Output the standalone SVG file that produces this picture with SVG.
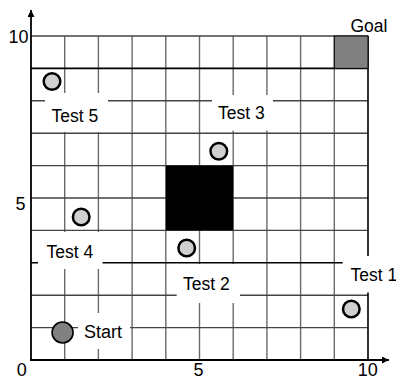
<svg xmlns="http://www.w3.org/2000/svg" width="396" height="378" viewBox="0 0 396 378">
<defs>
<style>
.v{stroke:#6a6a6a;stroke-width:1.4;fill:none}
.h{stroke:#444;stroke-width:1.4;fill:none}
.hb{stroke:#000;stroke-width:1.6;fill:none}
.box{fill:#fff}
.lbl{font-family:"Liberation Sans",Arial,sans-serif;font-size:17.5px;fill:#000}
.ax{font-family:"Liberation Sans",Arial,sans-serif;font-size:18px;fill:#000}
.test{fill:#d0d0d0;stroke:#000;stroke-width:2.5}
.axis{stroke:#000;stroke-width:1.8;fill:none}
</style>
<marker id="arr" viewBox="0 0 10 10" refX="10" refY="5" markerWidth="7" markerHeight="7" markerUnits="userSpaceOnUse" orient="auto">
<path d="M0,0 L10,5 L0,10 z" fill="#000"/>
</marker>
</defs>
<rect width="396" height="378" fill="#fff"/>
<g id="grid">
<path class="v" d="M64.7,36V360M98.4,36V360M132.1,36V360M165.8,36V360M199.5,36V360M233.2,36V360M266.9,36V360M300.6,36V360M334.3,36V360"/>
<path class="h" d="M31,36H368M31,100.8H368M31,133.2H368M31,165.6H368M31,198H368M31,230.4H368M31,295.2H368M31,327.6H368"/>
<path class="hb" d="M31,68.4H368M31,262.8H368M368,36V360"/>
</g>
<g id="obstacle"><rect x="165.8" y="165.6" width="67.4" height="64.8" fill="#000"/></g>
<g id="goal">
<rect x="334.3" y="36" width="33.7" height="32.4" fill="#808080" stroke="#000" stroke-width="1"/>
<text class="lbl" x="350.5" y="32">Goal</text>
</g>
<g id="test5">
<rect class="box" x="45" y="93" width="63" height="39"/>
<text class="lbl" x="51.5" y="121.7">Test 5</text>
<circle class="test" cx="52" cy="81.5" r="8.3"/>
</g>
<g id="test3">
<rect class="box" x="212" y="95" width="61" height="35.5"/>
<text class="lbl" x="218" y="119.3">Test 3</text>
<circle class="test" cx="218.8" cy="151.2" r="8.3"/>
</g>
<g id="test4">
<rect class="box" x="38" y="232" width="64.5" height="37"/>
<text class="lbl" x="46.5" y="258.3">Test 4</text>
<circle class="test" cx="81.2" cy="217" r="8.3"/>
</g>
<g id="test2">
<rect class="box" x="176.7" y="264" width="63.3" height="39"/>
<text class="lbl" x="183" y="290">Test 2</text>
<circle class="test" cx="186.7" cy="248" r="8.3"/>
</g>
<g id="test1">
<rect class="box" x="342.7" y="256" width="53.3" height="36.5"/>
<text class="lbl" x="350.5" y="280.7">Test 1</text>
<circle class="test" cx="351.3" cy="309" r="8.3"/>
</g>
<g id="start">
<rect class="box" x="78" y="313" width="52" height="36"/>
<circle cx="62.6" cy="332.5" r="10.5" fill="#808080" stroke="#000" stroke-width="1.6"/>
<text class="lbl" x="84" y="338.3" style="font-size:18px">Start</text>
</g>
<g id="axes">
<path class="axis" d="M31,361V10" marker-end="url(#arr)"/>
<path class="axis" d="M30,360H389" marker-end="url(#arr)"/>
<text class="ax" x="28.5" y="42.7" text-anchor="end">10</text>
<text class="ax" x="25.5" y="210" text-anchor="end">5</text>
<text class="ax" x="21.7" y="375.5" text-anchor="middle">0</text>
<text class="ax" x="198.5" y="375.5" text-anchor="middle">5</text>
<text class="ax" x="367.7" y="375.5" text-anchor="middle">10</text>
</g>
</svg>
